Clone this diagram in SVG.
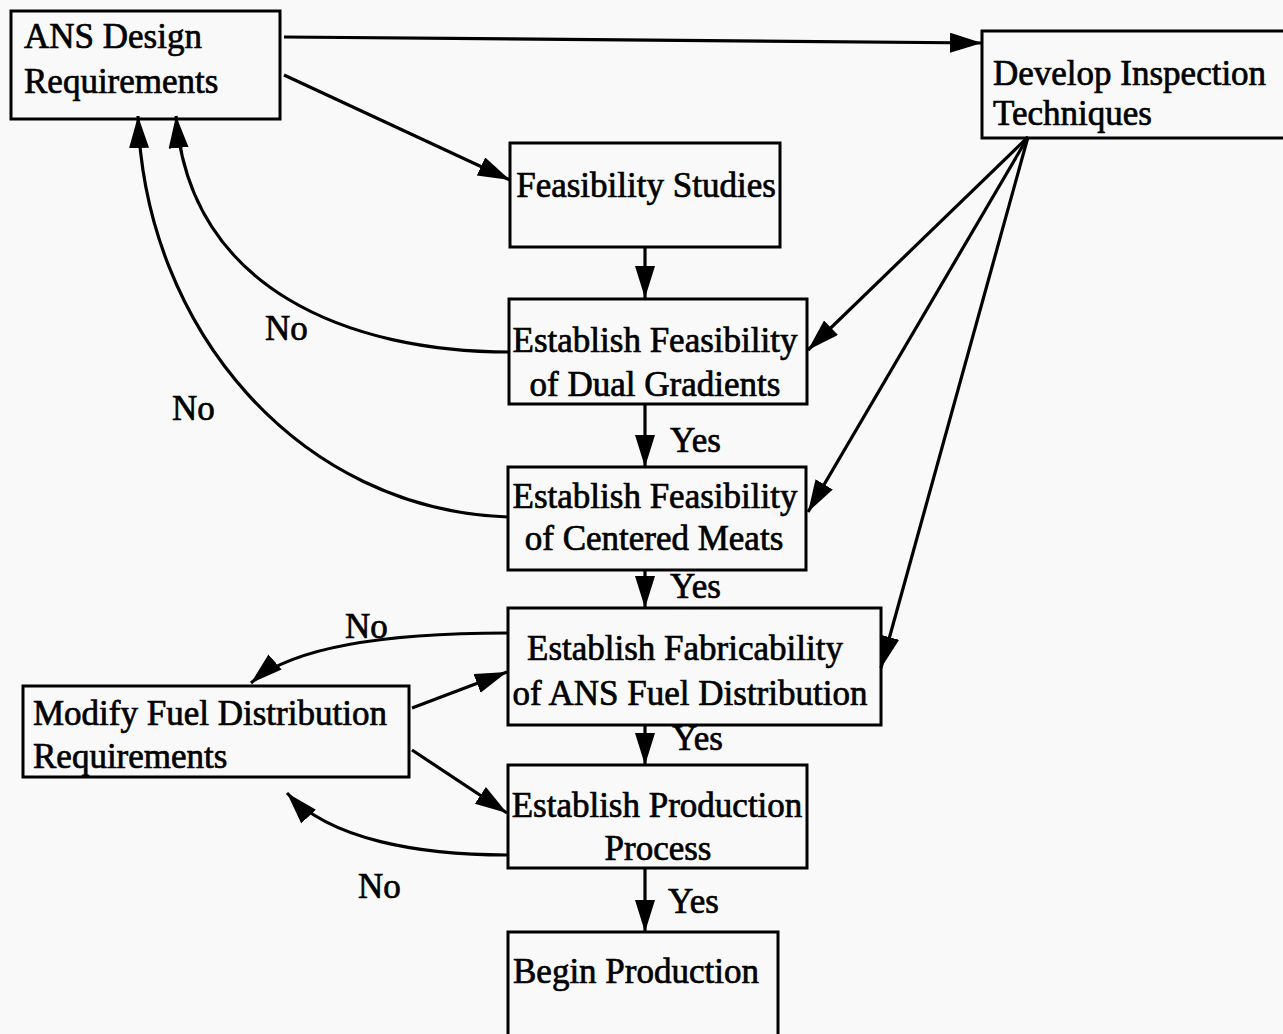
<svg xmlns="http://www.w3.org/2000/svg" width="1283" height="1034" viewBox="0 0 1283 1034">
<style>
  .box { fill: none; stroke: #000; stroke-width: 3; }
  .t { font-family: "Liberation Serif", "Times New Roman", serif; font-size: 35px; fill: #000; stroke: #000; stroke-width: 0.7; }
  .m { text-anchor: middle; }
  .c { fill: none; stroke: #000; stroke-width: 3.2; marker-end: url(#ah); }
</style>
<defs>
  <marker id="ah" markerUnits="userSpaceOnUse" markerWidth="34" markerHeight="22" refX="32" refY="10" orient="auto">
    <path d="M0,0 L32,10 L0,20 z" fill="#000"/>
  </marker>
</defs>
<rect width="1283" height="1034" fill="#f8f9f8"/>

<g id="connectors">
  <path class="c" d="M284,37 L982,43"/>
  <path class="c" d="M284,75 L510,180"/>
  <path class="c" d="M645,247 L645,298"/>
  <path class="c" d="M645,404 L645,467"/>
  <path class="c" d="M645,570 L645,608"/>
  <path class="c" d="M645,725 L645,765"/>
  <path class="c" d="M645,868 L645,932"/>
  <path class="c" d="M1028,137 L808,350"/>
  <path class="c" d="M1028,137 L808,512"/>
  <path class="c" d="M1028,137 L881,668"/>
  <path class="c" d="M412,708 L507,672"/>
  <path class="c" d="M412,750 L507,813"/>
  <path class="c" d="M510,352 C350,352 190,290 176,116"/>
  <path class="c" d="M508,517 C300,510 145,330 138,116"/>
  <path class="c" d="M507,633 C420,633 300,640 251,683"/>
  <path class="c" d="M507,855 C420,855 330,840 287,793"/>
  <text class="t" x="670" y="452">Yes</text>
  <text class="t" x="670" y="598">Yes</text>
  <text class="t" x="672" y="750">Yes</text>
  <text class="t" x="668" y="913">Yes</text>
  <text class="t" x="265" y="340">No</text>
  <text class="t" x="172" y="420">No</text>
  <text class="t" x="345" y="638">No</text>
  <text class="t" x="358" y="898">No</text>
</g>

<g id="ans-design-requirements">
  <rect class="box" x="11" y="11" width="269" height="108"/>
  <text class="t" x="24" y="48">ANS Design</text>
  <text class="t" x="24" y="93">Requirements</text>
</g>

<g id="develop-inspection-techniques">
  <rect class="box" x="982" y="31" width="310" height="107"/>
  <text class="t" x="993" y="85">Develop Inspection</text>
  <text class="t" x="993" y="125">Techniques</text>
</g>

<g id="feasibility-studies">
  <rect class="box" x="510" y="143" width="270" height="104"/>
  <text class="t m" x="646" y="197">Feasibility Studies</text>
</g>

<g id="dual-gradients">
  <rect class="box" x="509" y="299" width="298" height="105"/>
  <text class="t m" x="655" y="352">Establish Feasibility</text>
  <text class="t m" x="655" y="396">of Dual Gradients</text>
</g>

<g id="centered-meats">
  <rect class="box" x="508" y="467" width="298" height="103"/>
  <text class="t m" x="655" y="508">Establish Feasibility</text>
  <text class="t m" x="654" y="550">of Centered Meats</text>
</g>

<g id="fabricability">
  <rect class="box" x="508" y="608" width="373" height="117"/>
  <text class="t m" x="685" y="660">Establish Fabricability</text>
  <text class="t m" x="690" y="705">of ANS Fuel Distribution</text>
</g>

<g id="modify-fuel-distribution">
  <rect class="box" x="23" y="686" width="386" height="91"/>
  <text class="t" x="33" y="725">Modify Fuel Distribution</text>
  <text class="t" x="33" y="768">Requirements</text>
</g>

<g id="production-process">
  <rect class="box" x="508" y="765" width="299" height="103"/>
  <text class="t m" x="657" y="817">Establish Production</text>
  <text class="t m" x="658" y="860">Process</text>
</g>

<g id="begin-production">
  <rect class="box" x="508" y="932" width="270" height="110"/>
  <text class="t" x="513" y="983">Begin Production</text>
</g>
</svg>
